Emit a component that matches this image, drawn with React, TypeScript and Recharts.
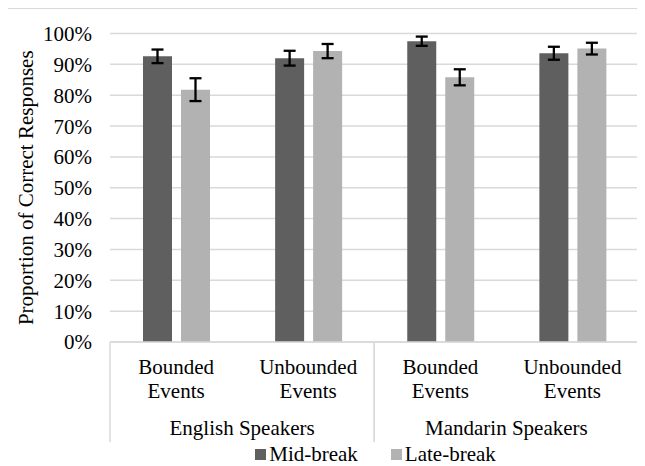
import React from "react";
import { BarChart, Bar, XAxis, YAxis, CartesianGrid, ErrorBar, Legend, Label } from "recharts";

// values (proportion correct, with error bars)
const groups = ["English Speakers", "Mandarin Speakers"];
const eventTypes = ["Bounded Events", "Unbounded Events"];
const midBreak = [0.926, 0.92, 0.975, 0.936];
const midBreakErr = [0.022, 0.024, 0.015, 0.021];
const lateBreak = [0.818, 0.943, 0.858, 0.951];
const lateBreakErr = [0.037, 0.023, 0.026, 0.019];
const yTicks = [0, 0.1, 0.2, 0.3, 0.4, 0.5, 0.6, 0.7, 0.8, 0.9, 1];

const data = groups.flatMap((g, gi) =>
  eventTypes.map((e, ei) => {
    const i = gi * eventTypes.length + ei;
    return {
      id: `${g}-${e}`,
      group: g,
      event: e,
      mid: midBreak[i],
      midErr: midBreakErr[i],
      late: lateBreak[i],
      lateErr: lateBreakErr[i],
    };
  })
);

const FONT = "Liberation Serif";
const W = 637;
const H = 457;
const MARGIN = { top: 24.5, right: 6.5, bottom: 0, left: 0 };
const Y_W = 102;
const PLOT_W = W - MARGIN.left - MARGIN.right - Y_W;
const HALF_BAND = PLOT_W / data.length / 2;
const DARK = "#5f5f5f";
const LIGHT = "#b2b2b2";
const GRID = "#d9d9d9";

function EventTick(props: any) {
  const { x, y, index } = props;
  const row = data[index];
  if (!row) return null;
  const [l1, l2] = row.event.split(" ");
  const perGroup = eventTypes.length;
  return (
    <g>
      <text x={x} y={y + 32} textAnchor="middle" fill="#000" fontFamily={FONT} fontSize={21}>{l1}</text>
      <text x={x} y={y + 56} textAnchor="middle" fill="#000" fontFamily={FONT} fontSize={21}>{l2}</text>
      {index % perGroup === 0 && (
        <>
          <text x={x + HALF_BAND * (perGroup - 1)} y={y + 93} textAnchor="middle" fill="#000" fontFamily={FONT} fontSize={21}>
            {row.group}
          </text>
          <line x1={x - HALF_BAND} y1={y} x2={x - HALF_BAND} y2={y + 100} stroke={GRID} strokeWidth={1.5} />
        </>
      )}
      {index % perGroup === perGroup - 1 && (
        <line x1={x + HALF_BAND} y1={y} x2={x + HALF_BAND} y2={y + 100} stroke={GRID} strokeWidth={1.5} />
      )}
    </g>
  );
}

function LegendContent() {
  const items = [
    { name: "Mid-break", color: DARK },
    { name: "Late-break", color: LIGHT },
  ];
  return (
    <div
      style={{
        display: "flex",
        justifyContent: "center",
        alignItems: "center",
        paddingLeft: 98,
        height: 24,
        fontFamily: FONT,
        fontSize: 21,
        color: "#000",
        lineHeight: "24px",
      }}
    >
      {items.map((it, i) => (
        <div key={it.name} style={{ display: "flex", alignItems: "center", marginLeft: i ? 33 : 0 }}>
          <span style={{ width: 11, height: 11, background: it.color, display: "inline-block", marginRight: 3 }} />
          <span>{it.name}</span>
        </div>
      ))}
    </div>
  );
}

export default function App() {
  return (
    <div
      style={{
        marginLeft: -1,
        width: W,
        borderLeft: `1px solid ${GRID}`,
        borderTop: `1px solid ${GRID}`,
        fontFamily: FONT,
      }}
    >
      <BarChart width={W} height={H} data={data} margin={MARGIN} barSize={29} barGap={9} style={{ fontFamily: FONT }}>
        <CartesianGrid vertical={false} stroke={GRID} strokeWidth={1.5} />
        <XAxis
          dataKey="id"
          height={100}
          interval={0}
          tickSize={0}
          tickMargin={0}
          tickLine={false}
          axisLine={{ stroke: GRID, strokeWidth: 1.5 }}
          tick={<EventTick />}
        />
        <YAxis
          width={Y_W}
          domain={[0, 1]}
          ticks={yTicks}
          interval={0}
          axisLine={false}
          tickLine={false}
          tickSize={0}
          tickMargin={18}
          tickFormatter={(v: number) => `${Math.round(v * 100)}%`}
          tick={{ fill: "#000", fontSize: 21, fontFamily: FONT }}
        >
          <Label
            content={({ viewBox }: any) => {
              const cx = 25;
              const cy = viewBox.y + viewBox.height / 2;
              return (
                <text
                  x={cx}
                  y={cy}
                  transform={`rotate(-90, ${cx}, ${cy})`}
                  textAnchor="middle"
                  fill="#000"
                  fontFamily={FONT}
                  fontSize={21}
                >
                  Proportion of Correct Responses
                </text>
              );
            }}
          />
        </YAxis>
        <Legend
          verticalAlign="bottom"
          content={<LegendContent />}
          wrapperStyle={{ left: 0, width: W, height: 24, bottom: 0 }}
        />
        <Bar dataKey="mid" name="Mid-break" fill={DARK} isAnimationActive={false}>
          <ErrorBar dataKey="midErr" width={6} strokeWidth={2.3} stroke="#000" isAnimationActive={false} />
        </Bar>
        <Bar dataKey="late" name="Late-break" fill={LIGHT} isAnimationActive={false}>
          <ErrorBar dataKey="lateErr" width={6} strokeWidth={2.3} stroke="#000" isAnimationActive={false} />
        </Bar>
      </BarChart>
    </div>
  );
}
